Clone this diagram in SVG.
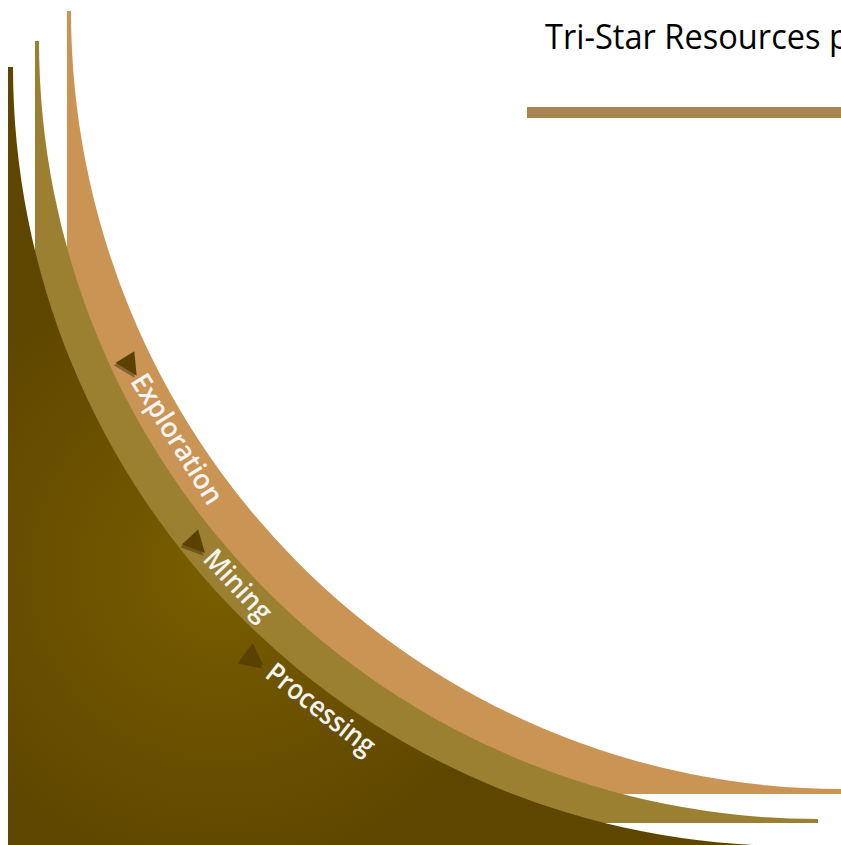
<svg xmlns="http://www.w3.org/2000/svg" width="841" height="845" viewBox="0 0 841 845">
  <defs>
    <radialGradient id="darkGrad" gradientUnits="userSpaceOnUse" cx="220" cy="570" r="330">
      <stop offset="0" stop-color="#7A5E00"/>
      <stop offset="0.6" stop-color="#684E00"/>
      <stop offset="1" stop-color="#5E4500"/>
    </radialGradient>
    <polygon id="tri" points="0,-11 22,0 0,11"/>
  </defs>
  <style>
    .label { font-family: "Open Sans", "Noto Sans", sans-serif; font-size: 28px; font-weight: 600; fill: #F4F4F4; }
    .title { font-family: "Open Sans", "Noto Sans", sans-serif; font-size: 34px; fill: #000000; }
    .arrow { fill: #5A4100; }
    .arrowShadow { fill: #3A2800; fill-opacity: 0.45; }
  </style>

  <g id="title">
    <text class="title" x="545" y="49" textLength="304" lengthAdjust="spacingAndGlyphs">Tri-Star Resources p</text>
    <rect x="527" y="107" width="320" height="11" fill="#A88450"/>
  </g>

  <g id="band-exploration">
    <path d="M67,11 L71,11 A770,778 0 0 0 841,789 L860,789 L860,794 L67,794 Z" fill="#CA9554"/>
  </g>
  <g id="band-mining">
    <path d="M35,41 L39,41 A779,778 0 0 0 818,819 L818,823 L35,823 Z" fill="#9A8030"/>
  </g>
  <g id="band-processing">
    <path d="M8,67 L13,67 A780,779 0 0 0 793,846 L793,850 L8,850 Z" fill="url(#darkGrad)"/>
  </g>

  <g id="node-exploration">
    <g transform="translate(125,357) rotate(58)">
      <use href="#tri" class="arrowShadow" x="1" y="3"/>
      <use href="#tri" class="arrow"/>
    </g>
    <text class="label" text-anchor="middle" textLength="148" lengthAdjust="spacingAndGlyphs" transform="translate(169,444) rotate(58)">Exploration</text>
  </g>
  <g id="node-mining">
    <g transform="translate(190,537) rotate(47)">
      <use href="#tri" class="arrowShadow" x="1" y="3"/>
      <use href="#tri" class="arrow"/>
    </g>
    <text class="label" text-anchor="middle" textLength="86" lengthAdjust="spacingAndGlyphs" transform="translate(231,591.5) rotate(47)">Mining</text>
  </g>
  <g id="node-processing">
    <g transform="translate(246,652) rotate(38)">
      <use href="#tri" class="arrowShadow" x="1" y="3"/>
      <use href="#tri" class="arrow"/>
    </g>
    <text class="label" text-anchor="middle" textLength="130" lengthAdjust="spacingAndGlyphs" transform="translate(315,716.5) rotate(38)">Processing</text>
  </g>
</svg>
